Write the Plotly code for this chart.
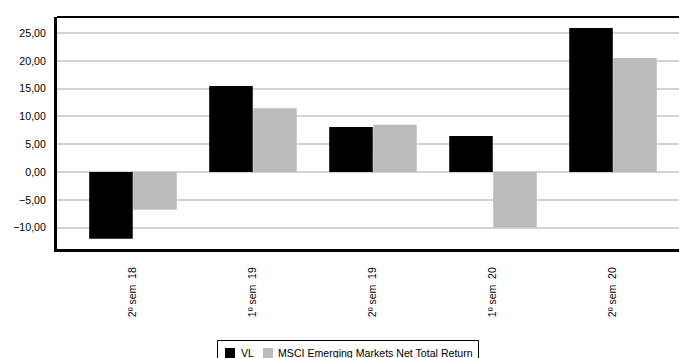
import plotly.graph_objects as go

categories = ["2º sem\u00a0 18", "1º sem\u00a0 19", "2º sem\u00a0 19", "1º sem\u00a0 20", "2º sem\u00a0 20"]
vl = [-12.0, 15.5, 8.1, 6.5, 25.9]
msci = [-6.8, 11.5, 8.5, -10.0, 20.5]
series_names = ["VL", "MSCI Emerging Markets Net Total Return"]
colors = ["#000000", "#bbbbbb"]

fig = go.Figure()
fig.add_trace(go.Bar(x=categories, y=vl, name=series_names[0],
                     marker=dict(color=colors[0], line=dict(width=0))))
fig.add_trace(go.Bar(x=categories, y=msci, name=series_names[1],
                     marker=dict(color=colors[1], line=dict(width=0))))

font = dict(family="Liberation Sans, Arial, sans-serif", size=11, color="#000000")
yfont = dict(family="Liberation Sans, Arial, sans-serif", size=10.6, color="#000000")
xfont = dict(family="Liberation Sans, Arial, sans-serif", size=10.5, color="#000000")
lfont = dict(family="Liberation Sans, Arial, sans-serif", size=10.6, color="#000000")

# plot area in pixels: x 57..679, y 17..249
def px(x):
    return (x - 57) / 622

def py(y):
    return (249 - y) / 232

shapes = [
    dict(type="line", xref="paper", yref="paper", x0=0, x1=1, y0=1, y1=1,
         line=dict(color="#000000", width=2)),
    # manual legend box and swatches
    dict(type="rect", xref="paper", yref="paper", x0=px(217.5), x1=px(478.5),
         y0=py(370), y1=py(340.5), line=dict(color="#000000", width=1), fillcolor="white"),
    dict(type="rect", xref="paper", yref="paper", x0=px(225), x1=px(235),
         y0=py(359), y1=py(348), line=dict(width=0), fillcolor=colors[0]),
    dict(type="rect", xref="paper", yref="paper", x0=px(263), x1=px(273),
         y0=py(359), y1=py(348), line=dict(width=0), fillcolor=colors[1]),
]
annotations = [
    dict(text=series_names[0], xref="paper", yref="paper", x=px(239), y=py(353),
         xanchor="left", yanchor="middle", showarrow=False, font=lfont),
    dict(text=series_names[1], xref="paper", yref="paper", x=px(276), y=py(353),
         xanchor="left", yanchor="middle", showarrow=False, font=lfont),
]

fig.update_layout(
    width=679, height=358,
    margin=dict(l=57, r=0, t=17, b=109),
    paper_bgcolor="white", plot_bgcolor="white",
    barmode="group", bargap=0.267, bargroupgap=0.01,
    separators=",.",
    font=font,
    showlegend=False,
    xaxis=dict(range=[-0.633, 4.55], showgrid=False, showline=True, linecolor="#000000",
               linewidth=3, tickangle=-90, ticks="", ticklabelstandoff=11, tickfont=xfont,
               zeroline=False, automargin=False),
    yaxis=dict(range=[-13.85, 27.9], dtick=5, tick0=0, tickformat=".2f", showgrid=True,
               gridcolor="#d3d3d3", gridwidth=2, zeroline=False, showline=True,
               linecolor="#000000", linewidth=3, ticks="", ticklabelstandoff=6,
               tickfont=yfont, automargin=False),
    shapes=shapes,
    annotations=annotations,
)

fig.write_html("out.html")
